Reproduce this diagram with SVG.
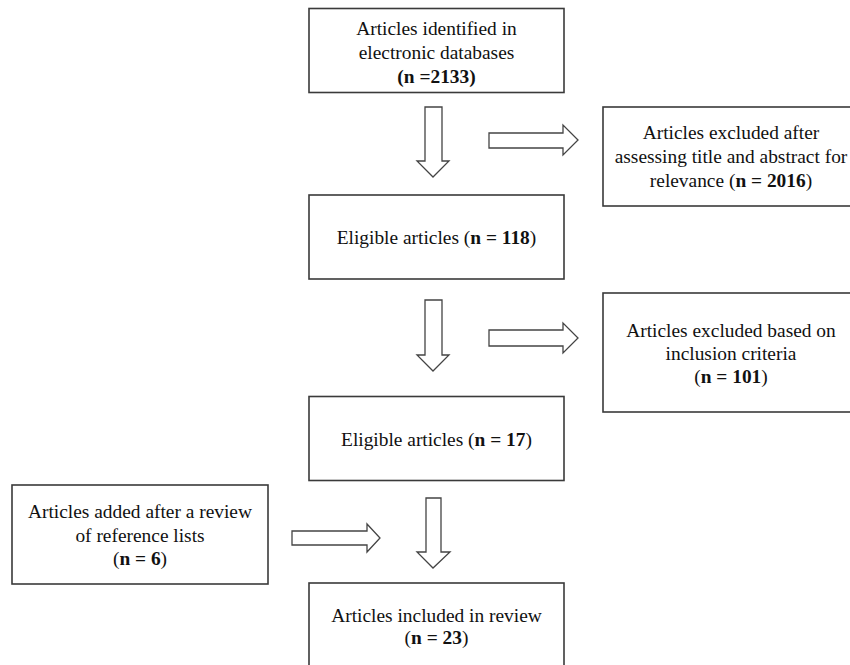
<svg xmlns="http://www.w3.org/2000/svg" width="850" height="665" viewBox="0 0 850 665">
<style>
.box{fill:#fff;stroke:#3a3a3a;stroke-width:1.6}
.arr{fill:#fff;stroke:#444;stroke-width:1.3;stroke-linejoin:miter}
text{font-family:"Liberation Serif","Times New Roman",serif;font-size:19.4px;fill:#111;text-anchor:middle}
.b{font-weight:bold}
</style>
<rect width="850" height="665" fill="#fff"/>
<g id="connectors">
<polygon class="arr" points="425,107 442,107 442,161 449,161 433,177 417,161 425,161"/>
<polygon class="arr" points="489,133 563,133 563,125 578,140 563,155 563,148 489,148"/>
<polygon class="arr" points="425,300 442,300 442,355 449,355 433,371 417,355 425,355"/>
<polygon class="arr" points="489,330 563,330 563,323 578,338 563,353 563,346 489,346"/>
<polygon class="arr" points="426,498 441,498 441,552 450,552 433,568 417,552 426,552"/>
<polygon class="arr" points="292,531 367,531 367,524 380,538 367,552 367,545 292,545"/>
</g>
<g id="n1">
<rect class="box" x="309" y="8.5" width="255" height="84"/>
<text x="436.5" y="35">Articles identified in</text>
<text x="436.5" y="59">electronic databases</text>
<text x="436.5" y="83" class="b">(n =2133)</text>
</g>
<g id="n2">
<rect class="box" x="603" y="107" width="260" height="99"/>
<text x="731" y="139">Articles excluded after</text>
<text x="731" y="163">assessing title and abstract for</text>
<text x="731" y="187">relevance (<tspan class="b">n = 2016</tspan>)</text>
</g>
<g id="n3">
<rect class="box" x="309" y="195" width="255" height="84"/>
<text x="436.5" y="244">Eligible articles (<tspan class="b">n = 118</tspan>)</text>
</g>
<g id="n4">
<rect class="box" x="603" y="293" width="260" height="119"/>
<text x="731" y="337">Articles excluded based on</text>
<text x="731" y="360">inclusion criteria</text>
<text x="731" y="383">(<tspan class="b">n = 101</tspan>)</text>
</g>
<g id="n5">
<rect class="box" x="309" y="396.5" width="255" height="84"/>
<text x="436.5" y="446">Eligible articles (<tspan class="b">n = 17</tspan>)</text>
</g>
<g id="n6">
<rect class="box" x="12" y="485" width="256" height="99"/>
<text x="140" y="518">Articles added after a review</text>
<text x="140" y="542">of reference lists</text>
<text x="140" y="565">(<tspan class="b">n = 6</tspan>)</text>
</g>
<g id="n7">
<rect class="box" x="309" y="583" width="255" height="100"/>
<text x="436.5" y="622">Articles included in review</text>
<text x="436.5" y="644">(<tspan class="b">n = 23</tspan>)</text>
</g>
</svg>
